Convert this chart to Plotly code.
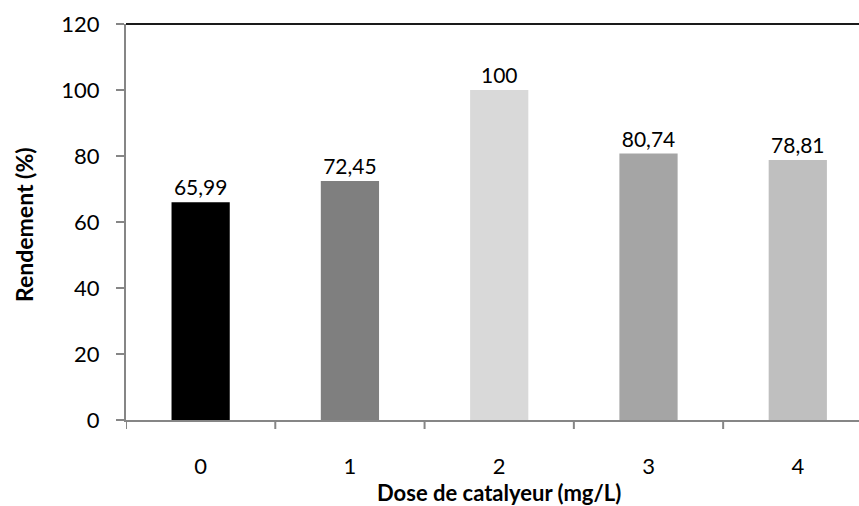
import plotly.graph_objects as go

doses = ["0", "1", "2", "3", "4"]
rendement = [65.99, 72.45, 100, 80.74, 78.81]
bar_colors = ["#000000", "#7f7f7f", "#d9d9d9", "#a5a5a5", "#bfbfbf"]
y_ticks = [0, 20, 40, 60, 80, 100, 120]


def fmt(v):
    s = f"{v:.2f}".rstrip("0").rstrip(".")
    return s.replace(".", ",")


labels = [fmt(v) for v in rendement]
font_family = "Lato, 'Open Sans', sans-serif"

fig = go.Figure()
fig.add_trace(go.Bar(
    x=list(range(len(doses))),
    y=rendement,
    width=0.39,
    marker=dict(color=bar_colors, line=dict(width=0)),
    text=labels,
    textposition="outside",
    cliponaxis=False,
    textfont=dict(size=21, color="#000000", family=font_family),
))

fig.update_layout(
    width=859,
    height=506,
    margin=dict(l=126, r=0, t=24, b=86),
    paper_bgcolor="white",
    plot_bgcolor="white",
    showlegend=False,
    font=dict(family=font_family, color="#000000"),
    xaxis=dict(
        range=[-0.5, 4.41],
        tickmode="array",
        tickvals=list(range(len(doses))),
        ticktext=doses,
        tickfont=dict(size=22),
        showgrid=False,
        zeroline=False,
        showline=True,
        linecolor="#868686",
        linewidth=2,
        ticks="",
        ticklabelstandoff=26,
    ),
    yaxis=dict(
        range=[0, 120],
        tickvals=y_ticks,
        tickfont=dict(size=22),
        showgrid=False,
        zeroline=False,
        showline=True,
        linecolor="#868686",
        linewidth=2,
        ticks="outside",
        ticklen=8,
        tickcolor="#868686",
        tickwidth=2,
        ticklabelstandoff=12,
    ),
    annotations=[
        dict(text="<b>Dose de catalyeur (mg/L)</b>", xref="paper", yref="paper",
             x=(499 - 126) / 733, y=-(492 - 420) / 396, xanchor="center", yanchor="middle",
             showarrow=False, font=dict(size=22)),
        dict(text="<b>Rendement (%)</b>", xref="paper", yref="paper",
             x=-(126 - 24) / 733, y=(420 - 225) / 396, xanchor="center", yanchor="middle",
             textangle=-90, showarrow=False, font=dict(size=23)),
    ],
)

# top border of the plot area
fig.add_shape(type="line", xref="paper", yref="paper", x0=0, x1=1, y0=1, y1=1,
              line=dict(color="#1a1a1a", width=2))

# category separator ticks on the x axis
for b in [-0.5, 0.5, 1.5, 2.5, 3.5]:
    fig.add_shape(type="line", xref="x", yref="paper", x0=b, x1=b, y0=0, y1=-9 / 396,
                  line=dict(color="#868686", width=2))

fig.write_html("out.html")
